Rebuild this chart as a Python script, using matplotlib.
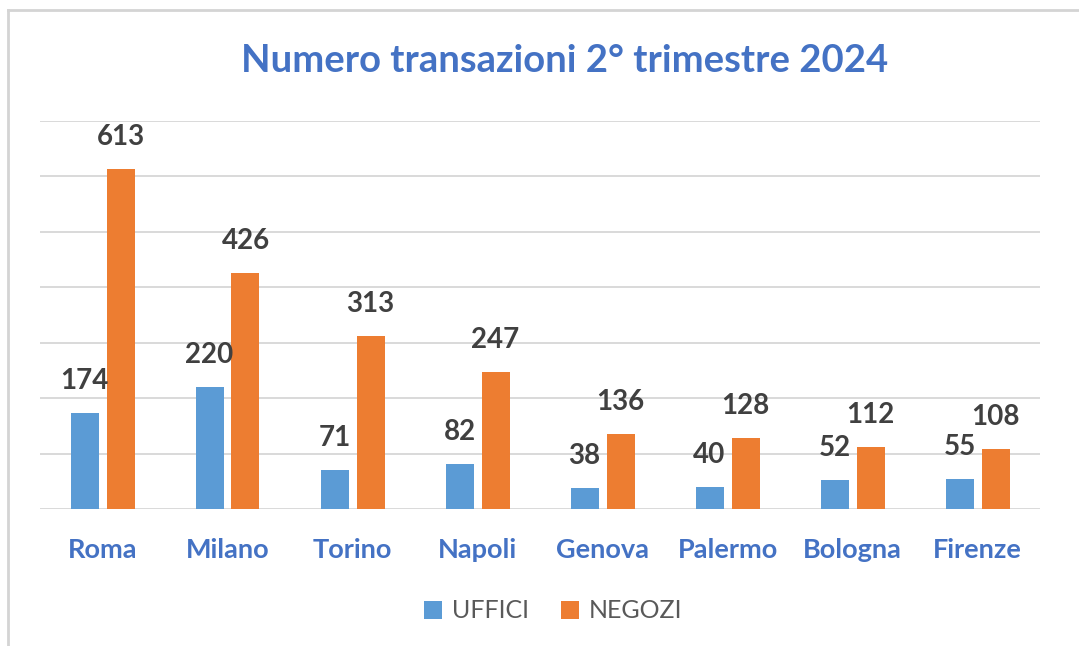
import matplotlib
matplotlib.use("Agg")
import matplotlib.pyplot as plt
from matplotlib.lines import Line2D
import numpy as np

cities = ["Roma", "Milano", "Torino", "Napoli", "Genova", "Palermo", "Bologna", "Firenze"]
uffici = [174, 220, 71, 82, 38, 40, 52, 55]
negozi = [613, 426, 313, 247, 136, 128, 112, 108]
series_names = ["UFFICI", "NEGOZI"]
title = "Numero transazioni 2° trimestre 2024"

BLUE = "#5B9BD5"
ORANGE = "#ED7D31"
TITLE_BLUE = "#4472C4"
LABEL_GRAY = "#404040"
LEGEND_GRAY = "#595959"
GRID = "#D9D9D9"
FONT = "Lato"

W, H = 1079, 646
fig = plt.figure(figsize=(W / 100, H / 100), dpi=100)
fig.patch.set_facecolor("white")

# plot area: x 40..1040 px, y 121..509 px
ax = fig.add_axes([40 / W, 1 - 509 / H, 1000 / W, 388 / H])
ax.set_facecolor("white")

x = np.arange(len(cities))
bw = 0.224
off = 0.144
b1 = ax.bar(x - off, uffici, bw, color=BLUE, label=series_names[0], zorder=3)
b2 = ax.bar(x + off, negozi, bw, color=ORANGE, label=series_names[1], zorder=3)

ax.set_xlim(-0.5, len(cities) - 0.5)
ax.set_ylim(0, 700)
ax.set_yticks(np.arange(0, 701, 100))
ax.yaxis.grid(True, color=GRID, linewidth=1.4, zorder=0)
ax.set_axisbelow(True)
for s in ax.spines.values():
    s.set_visible(False)
ax.tick_params(left=False, labelleft=False, bottom=False, labelbottom=False)

# data labels
for bars, vals in ((b1, uffici), (b2, negozi)):
    for rect, v in zip(bars, vals):
        ax.annotate(str(v), (rect.get_x() + rect.get_width() / 2, rect.get_height()),
                    xytext=(0, 24 * 0.72), textcoords="offset points",
                    ha="center", va="baseline", fontsize=20, fontweight="bold",
                    color=LABEL_GRAY, family=FONT, zorder=4)

# category labels
trans = ax.get_xaxis_transform()
for xi, c in zip(x, cities):
    ax.text(xi, -49 / 388, c, transform=trans, ha="center", va="baseline",
            fontsize=19.5, fontweight="bold", color=TITLE_BLUE, family=FONT)

# title
fig.text(565 / W, 1 - 72 / H, title, ha="center", va="baseline",
         fontsize=27.5, fontweight="bold", color=TITLE_BLUE, family=FONT)

# legend
fig.legend(handles=[b1, b2], labels=series_names, loc="center",
           bbox_to_anchor=(553 / W, 1 - 611 / H), ncol=2, frameon=False,
           prop={"family": FONT, "size": 18}, labelcolor=LEGEND_GRAY,
           handlelength=0.7, handleheight=0.7, handletextpad=0.4,
           columnspacing=1.3)

# chart frame (top and left edges visible)
fig.add_artist(Line2D([8 / W, 8 / W], [0, 1 - 10 / H], transform=fig.transFigure,
                      color="#D4D4D4", linewidth=2))
fig.add_artist(Line2D([8 / W, 1], [1 - 10 / H, 1 - 10 / H], transform=fig.transFigure,
                      color="#D4D4D4", linewidth=2))

fig.savefig("out.png", dpi=100, facecolor="white")
